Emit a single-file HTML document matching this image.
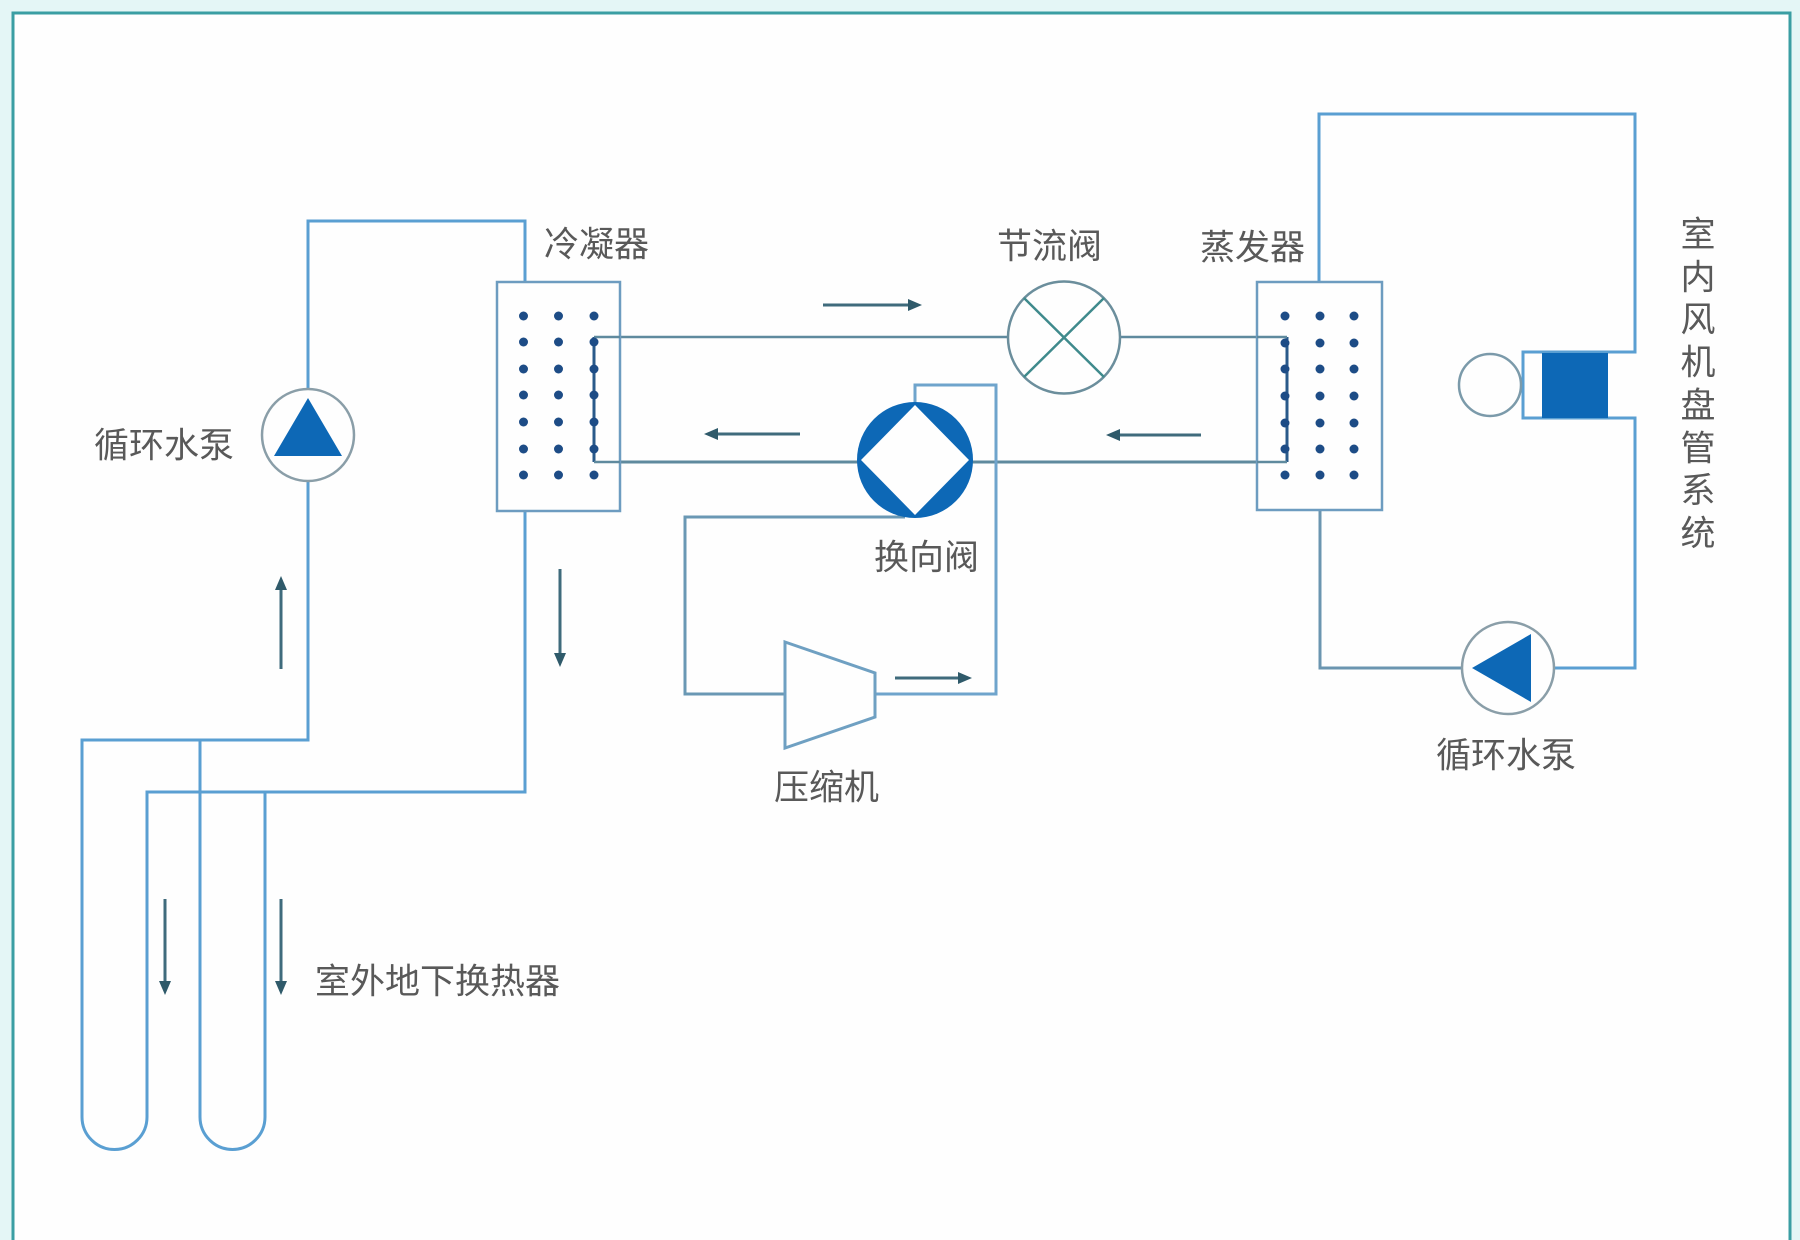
<!DOCTYPE html>
<html>
<head>
<meta charset="utf-8">
<style>
html,body{margin:0;padding:0;background:#e4f6f6;}
body{width:1800px;height:1240px;overflow:hidden;}
svg{display:block;}
text{font-family:"Liberation Sans","Noto Sans CJK SC",sans-serif;fill:#595959;font-size:35px;dominant-baseline:central;}
</style>
</head>
<body>
<svg width="1800" height="1240" viewBox="0 0 1800 1240" xmlns="http://www.w3.org/2000/svg">
  <!-- frame -->
  <rect x="0" y="0" width="1800" height="1240" fill="#e4f6f6"/>
  <rect x="13" y="13" width="1777" height="1260" fill="#fefefe" stroke="#3a9ea3" stroke-width="3"/>

  <g fill="none" stroke-linejoin="miter">
    <!-- left water loop -->
    <path d="M308,389 L308,221 L525,221 L525,282" stroke="#5a9fd2" stroke-width="3"/>
    <path d="M308,481 L308,740 L82,740 L82,1117 A32.5,32.5 0 0 0 147,1117 L147,792 L525,792 L525,511" stroke="#5a9fd2" stroke-width="3"/>
    <path d="M200,740 L200,1117 A32.5,32.5 0 0 0 265,1117 L265,792" stroke="#5a9fd2" stroke-width="3"/>

    <!-- right water loop -->
    <path d="M1319,282 L1319,114 L1635,114 L1635,352 L1523,352 L1523,418 L1635,418 L1635,668 L1554,668" stroke="#5a9fd2" stroke-width="3"/>
    <path d="M1462,668 L1320,668 L1320,510" stroke="#6b95b0" stroke-width="3"/>

    <!-- refrigerant lines -->
    <path d="M594,337 L1008,337" stroke="#5f8a9e" stroke-width="2.5"/>
    <path d="M1120,337 L1287,337" stroke="#5f8a9e" stroke-width="2.5"/>
    <path d="M594,462 L1287,462" stroke="#5f8a9e" stroke-width="3"/>
    <path d="M915,404 L915,385 L996,385 L996,694 L875,694" stroke="#6fa4cc" stroke-width="3"/>
    <path d="M905,517 L685,517 L685,694 L785,694" stroke="#6a98b4" stroke-width="3"/>
  </g>

  <!-- condenser -->
  <rect x="497" y="282" width="123" height="229" fill="#fefefe" stroke="#6d9cc0" stroke-width="2.5"/>
  <!-- evaporator -->
  <rect x="1257" y="282" width="125" height="228" fill="#fefefe" stroke="#6d9cc0" stroke-width="2.5"/>

  <!-- coil lines -->
  <path d="M594,337 L594,462" stroke="#2a5a8a" stroke-width="3" fill="none"/>
  <path d="M594,337 L620,337 M594,462 L620,462" stroke="#5f8a9e" stroke-width="2.5" fill="none"/>
  <path d="M1287,337 L1287,462" stroke="#2a5a8a" stroke-width="3" fill="none"/>
  <path d="M1257,337 L1287,337 M1257,462 L1287,462" stroke="#5f8a9e" stroke-width="2.5" fill="none"/>

  <!-- dots -->
  <g fill="#1d4c86">
    <circle cx="523.5" cy="316" r="4.5"/><circle cx="558.5" cy="316" r="4.5"/><circle cx="594" cy="316" r="4.5"/>
    <circle cx="523.5" cy="342" r="4.5"/><circle cx="558.5" cy="342" r="4.5"/><circle cx="594" cy="342" r="4.5"/>
    <circle cx="523.5" cy="369" r="4.5"/><circle cx="558.5" cy="369" r="4.5"/><circle cx="594" cy="369" r="4.5"/>
    <circle cx="523.5" cy="395" r="4.5"/><circle cx="558.5" cy="395" r="4.5"/><circle cx="594" cy="395" r="4.5"/>
    <circle cx="523.5" cy="422" r="4.5"/><circle cx="558.5" cy="422" r="4.5"/><circle cx="594" cy="422" r="4.5"/>
    <circle cx="523.5" cy="449" r="4.5"/><circle cx="558.5" cy="449" r="4.5"/><circle cx="594" cy="449" r="4.5"/>
    <circle cx="523.5" cy="475" r="4.5"/><circle cx="558.5" cy="475" r="4.5"/><circle cx="594" cy="475" r="4.5"/>

    <circle cx="1285" cy="316" r="4.5"/><circle cx="1320" cy="316" r="4.5"/><circle cx="1354" cy="316" r="4.5"/>
    <circle cx="1285" cy="343" r="4.5"/><circle cx="1320" cy="343" r="4.5"/><circle cx="1354" cy="343" r="4.5"/>
    <circle cx="1285" cy="369" r="4.5"/><circle cx="1320" cy="369" r="4.5"/><circle cx="1354" cy="369" r="4.5"/>
    <circle cx="1285" cy="396" r="4.5"/><circle cx="1320" cy="396" r="4.5"/><circle cx="1354" cy="396" r="4.5"/>
    <circle cx="1285" cy="423" r="4.5"/><circle cx="1320" cy="423" r="4.5"/><circle cx="1354" cy="423" r="4.5"/>
    <circle cx="1285" cy="449" r="4.5"/><circle cx="1320" cy="449" r="4.5"/><circle cx="1354" cy="449" r="4.5"/>
    <circle cx="1285" cy="475" r="4.5"/><circle cx="1320" cy="475" r="4.5"/><circle cx="1354" cy="475" r="4.5"/>
  </g>

  <!-- throttle valve -->
  <circle cx="1064" cy="337.5" r="56" fill="#fefefe" stroke="#6b8e9c" stroke-width="2.5"/>
  <path d="M1024,298 L1104,377 M1104,298 L1024,377" stroke="#3f8a8c" stroke-width="2.5" fill="none"/>

  <!-- reversing valve -->
  <circle cx="915" cy="460" r="58" fill="#0d68b6"/>
  <polygon points="915,405 969,460 915,515 861,460" fill="#fefefe"/>

  <!-- compressor -->
  <polygon points="785,642 875,673 875,717 785,748" fill="#fefefe" stroke="#6fa0c2" stroke-width="3"/>

  <!-- left pump -->
  <circle cx="308" cy="435" r="46" fill="#fefefe" stroke="#8a9ea8" stroke-width="2.5"/>
  <polygon points="308,398 342,456 274,456" fill="#0d68b6"/>

  <!-- right pump -->
  <circle cx="1508" cy="668" r="46" fill="#fefefe" stroke="#8a9ea8" stroke-width="2.5"/>
  <polygon points="1472,668 1531,634 1531,702" fill="#0d68b6"/>

  <!-- fan coil -->
  <rect x="1542" y="353" width="66" height="65" fill="#0d68b6"/>
  <circle cx="1490" cy="385" r="31" fill="#fefefe" stroke="#7b9aaa" stroke-width="2.5"/>

  <!-- arrows -->
  <g stroke="#3f6b7c" stroke-width="3" fill="none">
    <path d="M823,305 L910,305"/>
    <path d="M800,434 L715,434"/>
    <path d="M1201,435 L1117,435"/>
    <path d="M895,678 L960,678"/>
    <path d="M560,569 L560,656"/>
    <path d="M281,669 L281,587"/>
    <path d="M165,899 L165,984"/>
    <path d="M281,899 L281,984"/>
  </g>
  <g fill="#2f5a6a">
    <polygon points="922,305 908,299 908,311"/>
    <polygon points="704,434 718,428 718,440"/>
    <polygon points="1106,435 1120,429 1120,441"/>
    <polygon points="972,678 958,672 958,684"/>
    <polygon points="560,667 554,653 566,653"/>
    <polygon points="281,576 275,590 287,590"/>
    <polygon points="165,995 159,981 171,981"/>
    <polygon points="281,995 275,981 287,981"/>
  </g>

  <!-- labels -->
  <text x="544" y="245">冷凝器</text>
  <text x="997" y="247">节流阀</text>
  <text x="1200" y="248">蒸发器</text>
  <text x="94" y="446">循环水泵</text>
  <text x="874" y="558">换向阀</text>
  <text x="774" y="788">压缩机</text>
  <text x="1436" y="756">循环水泵</text>
  <text x="315" y="982">室外地下换热器</text>
  <g text-anchor="middle" style="font-size:33px">
    <text x="1698" y="235">室</text>
    <text x="1698" y="278">内</text>
    <text x="1698" y="320">风</text>
    <text x="1698" y="363">机</text>
    <text x="1698" y="406">盘</text>
    <text x="1698" y="449">管</text>
    <text x="1698" y="491">系</text>
    <text x="1698" y="534">统</text>
  </g>
</svg>
</body>
</html>
